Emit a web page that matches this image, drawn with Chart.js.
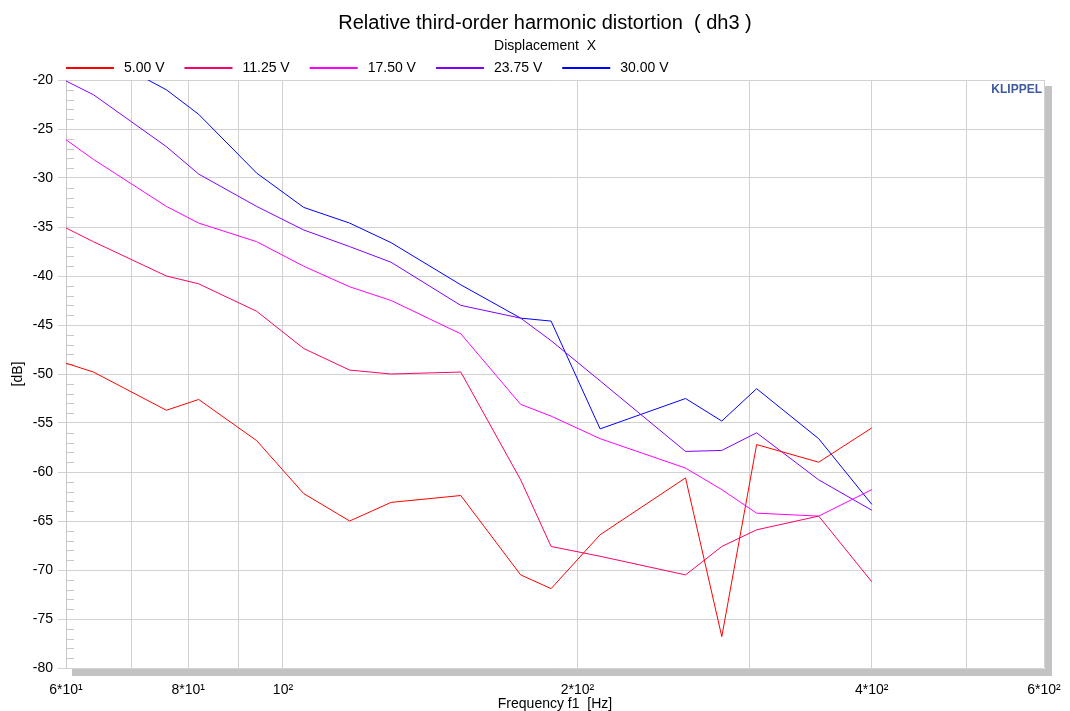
<!DOCTYPE html>
<html lang="en">
<head>
<meta charset="UTF-8">
<title>Relative third-order harmonic distortion (dh3)</title>
<script src="https://cdn.jsdelivr.net/npm/chart.js"></script>
<style>
  body { margin: 0; background: #fff; }
  #wrap { width: 1070px; height: 711px; position: relative; }
</style>
</head>
<body>
<div id="wrap"><canvas id="dh3Chart"></canvas></div>
<script>
// measured frequencies f1 [Hz]
const freqs = [60, 64, 76, 82, 94, 105, 117, 129, 152, 175, 188, 211, 258, 281, 305, 353, 400];

const voltLabels = ["5.00 V", "11.25 V", "17.50 V", "23.75 V", "30.00 V"];
const voltColors = ["#ff0000", "#ff0066", "#ff00ff", "#8000ff", "#0000ff"];

// dh3 in dB, one array per drive voltage
const dh3_5V    = [-48.9, -49.8, -53.7, -52.6, -56.8, -62.2, -65.0, -63.1, -62.4, -70.5, -71.9, -66.4, -60.6, -76.8, -57.2, -59.0, -55.5];
const dh3_11V   = [-35.1, -36.5, -40.0, -40.8, -43.6, -47.4, -49.6, -50.0, -49.8, -60.8, -67.6, -68.6, -70.5, -67.6, -65.9, -64.5, -71.2];
const dh3_17V   = [-26.1, -28.1, -32.9, -34.6, -36.5, -39.0, -41.1, -42.5, -45.9, -53.1, -54.3, -56.6, -59.6, -61.8, -64.2, -64.5, -61.8];
const dh3_23V   = [-20.1, -21.5, -26.8, -29.6, -32.9, -35.3, -37.0, -38.6, -43.0, -44.3, -46.6, -50.7, -57.9, -57.8, -56.0, -60.8, -63.9];
const dh3_30V   = [-15.5, -17.0, -21.0, -23.5, -29.5, -33.0, -34.6, -36.6, -40.9, -44.3, -44.6, -55.6, -52.5, -54.8, -51.5, -56.6, -63.3];

// x grid lines and their labels
const xGridFreqs  = [60, 70, 80, 90, 100, 200, 300, 400, 500, 600];
const xTickLabels = ["6*10\u00b9", "", "8*10\u00b9", "", "10\u00b2", "2*10\u00b2", "", "4*10\u00b2", "", "6*10\u00b2"];

const yMin = -80, yMax = -20, yStep = 5;

const titleText = "Relative third-order harmonic distortion  ( dh3 )";
const subtitleText = "Displacement  X";

const FONT = "Arial, 'Liberation Sans', sans-serif";

const series = [dh3_5V, dh3_11V, dh3_17V, dh3_23V, dh3_30V];

// header (title, subtitle, legend), shadow, minor ticks and logo
const klippelDecor = {
  id: "klippelDecor",
  beforeDraw(chart) {
    const { ctx, chartArea: a } = chart;
    ctx.save();
    ctx.fillStyle = "#c3c3c3";
    ctx.fillRect(a.right + 1, a.top + 6, 7, a.bottom - a.top + 1);
    ctx.fillRect(a.left + 6, a.bottom + 1, a.right - a.left + 2, 7);
    ctx.restore();
  },
  beforeDatasetsDraw(chart) {
    const { ctx, chartArea: a } = chart;
    const ys = chart.scales.y;
    ctx.save();
    ctx.strokeStyle = "#c8c8c8";
    ctx.lineWidth = 1;
    for (let v = yMin + 1; v < yMax; v++) {
      if (v % yStep === 0) continue;
      const py = Math.round(ys.getPixelForValue(v)) + 0.5;
      ctx.beginPath();
      ctx.moveTo(a.left + 1, py);
      ctx.lineTo(a.left + 8, py);
      ctx.stroke();
    }
    ctx.restore();
  },
  afterDraw(chart) {
    const { ctx, chartArea: a } = chart;
    ctx.save();
    ctx.textBaseline = "middle";
    ctx.fillStyle = "#000";

    // title block, centred a bit left of the plot centre like the original
    const cx = (a.left + a.right) / 2 - 10;
    ctx.textAlign = "center";
    ctx.font = "20px " + FONT;
    ctx.fillText(titleText, cx, 23);
    ctx.font = "14px " + FONT;
    ctx.fillText(subtitleText, cx, 46.5);

    // legend
    ctx.textAlign = "left";
    ctx.font = "14px " + FONT;
    let x = a.left;
    const ly = 68;
    chart.data.datasets.forEach(ds => {
      ctx.strokeStyle = ds.borderColor;
      ctx.lineWidth = 2;
      ctx.beginPath();
      ctx.moveTo(x, ly);
      ctx.lineTo(x + 48, ly);
      ctx.stroke();
      ctx.fillStyle = "#000";
      ctx.fillText(ds.label, x + 58, ly);
      x += 58 + ctx.measureText(ds.label).width + 20;
    });

    // logo
    ctx.font = "bold 12px " + FONT;
    ctx.fillStyle = "#3d5a9e";
    ctx.textAlign = "right";
    ctx.fillText("KLIPPEL", a.right - 2, a.top + 10);
    ctx.restore();
  }
};

const datasets = series.map((vals, i) => ({
  label: voltLabels[i],
  data: freqs.map((f, j) => ({ x: f, y: vals[j] })),
  borderColor: voltColors[i],
  borderWidth: 1,
  pointRadius: 0,
  tension: 0,
  fill: false
}));

new Chart(document.getElementById("dh3Chart"), {
  type: "line",
  data: { datasets: datasets },
  plugins: [klippelDecor],
  options: {
    responsive: true,
    maintainAspectRatio: false,
    animation: false,
    layout: { padding: { left: 0, right: 26, top: 80, bottom: 0 } },
    plugins: {
      legend: { display: false },
      tooltip: { enabled: false },
      title: { display: false }
    },
    scales: {
      x: {
        type: "logarithmic",
        min: 60,
        max: 600,
        afterBuildTicks: s => { s.ticks = xGridFreqs.map(v => ({ value: v })); },
        afterFit: s => {
          s.height = 43;
          // end labels fit in the layout padding, keep plot edges fixed
          s.paddingLeft = 0;
          s.paddingRight = 0;
        },
        grid: { color: "#d2d2d2", lineWidth: 1, drawTicks: false },
        border: { display: false },
        ticks: {
          autoSkip: false,
          maxRotation: 0,
          padding: 14,
          color: "#000",
          font: { family: FONT, size: 14 },
          callback: (v, i) => xTickLabels[i]
        },
        title: {
          display: true,
          text: "Frequency f1  [Hz]",
          color: "#000",
          font: { family: FONT, size: 14 },
          padding: { top: 0, bottom: -2 }
        }
      },
      y: {
        min: yMin,
        max: yMax,
        afterFit: s => { s.width = 66; },
        grid: { color: "#d2d2d2", lineWidth: 1, tickLength: 8 },
        border: { display: true, color: "#c8c8c8" },
        ticks: {
          stepSize: yStep,
          padding: 5,
          color: "#000",
          font: { family: FONT, size: 14 }
        },
        title: {
          display: true,
          text: "[dB]",
          color: "#000",
          font: { family: FONT, size: 14 },
          padding: { top: 10, bottom: 0 }
        }
      }
    }
  }
});
</script>
</body>
</html>
